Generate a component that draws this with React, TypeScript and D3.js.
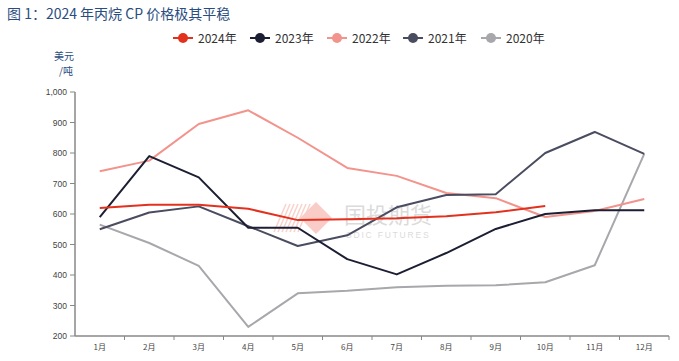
import React from "react";
import * as d3 from "d3";

const months = ["1月", "2月", "3月", "4月", "5月", "6月", "7月", "8月", "9月", "10月", "11月", "12月"];

const y2024 = [620, 630, 630, 617, 580, 583, 586, 593, 606, 626];
const y2023 = [590, 790, 720, 555, 555, 452, 402, 472, 551, 600, 612, 612];
const y2022 = [740, 775, 895, 940, 850, 751, 725, 669, 652, 590, 610, 649];
const y2021 = [550, 605, 625, 560, 495, 530, 622, 662, 665, 800, 869, 797];
const y2020 = [565, 505, 430, 230, 340, 348, 360, 365, 366, 376, 432, 797];

const seriesNames = ["2024年", "2023年", "2022年", "2021年", "2020年"];
const seriesColors = ["#e2321f", "#1c1f33", "#f2938c", "#4a4c60", "#a7a7ac"];
const seriesData = [y2024, y2023, y2022, y2021, y2020];

const yTicks = [200, 300, 400, 500, 600, 700, 800, 900, 1000];

const W = 679;
const H = 361;
const margin = { left: 75, right: 10, top: 92, bottom: 25 };

export default function App() {
  const x = d3
    .scaleBand<string>()
    .domain(months)
    .range([margin.left, 669])
    .paddingInner(0)
    .paddingOuter(0);

  const y = d3.scaleLinear().domain([200, 1000]).range([336, 92]);

  const line = d3
    .line<number>()
    .x((d, i) => (x(months[i]) as number) + x.bandwidth() / 2)
    .y((d) => y(d));

  const fmt = d3.format(",");
  const font = "'Liberation Sans', Arial, sans-serif";
  const cjk = "'Noto Sans CJK SC', sans-serif";

  const legendX = [173, 250, 327, 403, 481];
  // draw order: light ones first, 2024 on top
  const order = [4, 2, 3, 1, 0];

  return (
    <svg
      width={W}
      height={H}
      style={{ position: "absolute", left: 0, top: 0, background: "#fff" }}
    >
      {/* title */}
      <text x={7} y={19} fontSize={14} fill="#2a4d80" fontFamily={cjk}>
        图 1：2024 年丙烷 CP 价格极其平稳
      </text>

      {/* legend */}
      {seriesNames.map((name, i) => (
        <g key={name} transform={`translate(${legendX[i]},38)`}>
          <line x1={0} x2={20} y1={0} y2={0} stroke={seriesColors[i]} strokeWidth={2} />
          <circle cx={10} cy={0} r={5} fill={seriesColors[i]} />
          <text x={25} y={4.5} fontSize={12} fill="#333" fontFamily={cjk}>
            {name}
          </text>
        </g>
      ))}

      {/* unit */}
      <text x={64} y={60} fontSize={10} fill="#2a4d80" textAnchor="middle" fontFamily={cjk}>
        美元
      </text>
      <text x={66} y={75} fontSize={10} fill="#2a4d80" textAnchor="middle" fontFamily={cjk}>
        /吨
      </text>

      {/* watermark */}
      <g opacity={0.35}>
        <g transform="translate(280,218)">
          {d3.range(0, 7).map((k) => (
            <line
              key={k}
              x1={k * 4 - 6}
              y1={14}
              x2={k * 4 + 6}
              y2={-14}
              stroke="#f08070"
              strokeWidth={1.5}
            />
          ))}
          <path d="M36,-16 L52,0 L36,16 L20,0 Z" fill="#f07060" />
        </g>
        <text x={344} y={223} fontSize={22} fill="#999" fontFamily={cjk}>
          国投期货
        </text>
        <text x={346} y={238} fontSize={8.5} fill="#999" fontFamily={font} letterSpacing={1.8}>
          SDIC FUTURES
        </text>
      </g>

      {/* y axis */}
      <line x1={margin.left} x2={margin.left} y1={92} y2={336} stroke="#888" strokeWidth={1.5} />
      {yTicks.map((t) => (
        <g key={t}>
          <line x1={margin.left - 5} x2={margin.left} y1={y(t)} y2={y(t)} stroke="#888" />
          <text
            x={margin.left - 8}
            y={y(t) + 3}
            fontSize={8.5}
            fill="#444"
            textAnchor="end"
            fontFamily={font}
          >
            {fmt(t)}
          </text>
        </g>
      ))}

      {/* x axis */}
      <line x1={margin.left} x2={669} y1={336} y2={336} stroke="#888" strokeWidth={1.5} />
      {months.map((m) => (
        <g key={m}>
          <line
            x1={(x(m) as number) + x.bandwidth()}
            x2={(x(m) as number) + x.bandwidth()}
            y1={336}
            y2={340}
            stroke="#888"
          />
          <text
            x={(x(m) as number) + x.bandwidth() / 2}
            y={350}
            fontSize={8}
            fill="#444"
            textAnchor="middle"
            fontFamily={cjk}
          >
            {m}
          </text>
        </g>
      ))}

      {/* series */}
      {order.map((i) => (
        <path
          key={seriesNames[i]}
          d={line(seriesData[i]) || ""}
          fill="none"
          stroke={seriesColors[i]}
          strokeWidth={2}
          strokeLinejoin="round"
        />
      ))}
    </svg>
  );
}
